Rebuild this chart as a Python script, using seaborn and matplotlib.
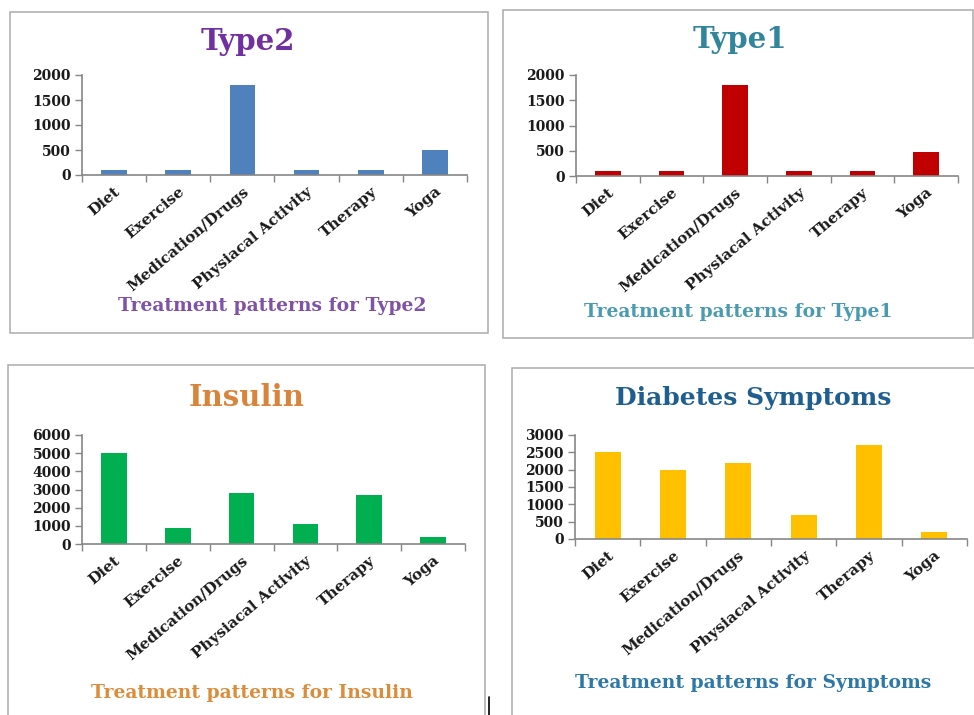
import matplotlib
matplotlib.use("Agg")
import matplotlib.pyplot as plt
from matplotlib.patches import Rectangle
from matplotlib.lines import Line2D
from matplotlib.ticker import FixedLocator, NullFormatter
import seaborn as sns

sns.set_theme(style="white")
plt.rcParams["font.family"] = ["DejaVu Serif"]

categories = ["Diet", "Exercise", "Medication/Drugs", "Physiacal Activity", "Therapy", "Yoga"]
type2_counts = [100, 100, 1800, 100, 100, 500]
type1_counts = [100, 100, 1800, 100, 100, 480]
insulin_counts = [5000, 900, 2800, 1100, 2700, 400]
symptom_counts = [2500, 2000, 2200, 700, 2700, 200]

type2_ticks = [0, 500, 1000, 1500, 2000]
type1_ticks = [0, 500, 1000, 1500, 2000]
insulin_ticks = [0, 1000, 2000, 3000, 4000, 5000, 6000]
symptom_ticks = [0, 500, 1000, 1500, 2000, 2500, 3000]

W, H = 974, 715
fig = plt.figure(figsize=(W / 100, H / 100), dpi=100)
fig.patch.set_facecolor("white")


def px_rect(x0, y0, x1, y1):
    """Convert a pixel box (top-left origin) to figure fractions."""
    return [x0 / W, 1 - y1 / H, (x1 - x0) / W, (y1 - y0) / H]


def frame(x0, y0, x1, y1):
    fig.add_artist(Rectangle((x0 / W, 1 - y1 / H), (x1 - x0) / W, (y1 - y0) / H,
                             transform=fig.transFigure, fill=False,
                             edgecolor="#ababab", linewidth=1.1))


def panel(axbox, values, ticks, bar_color, title, title_xy, title_size, title_color,
          subtitle, subtitle_xy, subtitle_color):
    ax = fig.add_axes(px_rect(*axbox))
    sns.barplot(x=categories, y=values, ax=ax, color=bar_color,
                width=0.4, saturation=1, edgecolor="none")
    ax.set_ylim(ticks[0], ticks[-1])
    ax.set_xlim(-0.5, len(categories) - 0.5)
    ax.set_yticks(ticks)
    ax.set_yticklabels([str(t) for t in ticks], fontsize=10, fontweight="bold",
                       color="#1a1a1a")
    ax.set_xticks(range(len(categories)))
    ax.set_xticklabels(categories, rotation=40, ha="right",
                       rotation_mode="anchor", fontsize=11,
                       fontweight="bold", color="#1a1a1a")
    ax.xaxis.set_minor_locator(FixedLocator([i - 0.5 for i in range(len(categories) + 1)]))
    ax.xaxis.set_minor_formatter(NullFormatter())
    ax.tick_params(axis="x", which="major", length=0, pad=7)
    ax.tick_params(axis="x", which="minor", length=5, width=1, color="#868686",
                   direction="out", bottom=True)
    ax.tick_params(axis="y", which="major", length=5, width=1, color="#868686",
                   direction="out", left=True, pad=3)
    for side in ("top", "right"):
        ax.spines[side].set_visible(False)
    for side in ("left", "bottom"):
        ax.spines[side].set_color("#868686")
        ax.spines[side].set_linewidth(1.2)
    ax.set_xlabel("")
    ax.set_ylabel("")
    ax.set_facecolor("none")
    ax.grid(False)
    fig.text(title_xy[0] / W, 1 - title_xy[1] / H, title, ha="center", va="center",
             fontsize=title_size, fontweight="bold", color=title_color)
    fig.text(subtitle_xy[0] / W, 1 - subtitle_xy[1] / H, subtitle, ha="center",
             va="center", fontsize=13.5, fontweight="bold", color=subtitle_color)
    return ax


# panel frames
frame(10, 12, 488, 333)
frame(503, 10, 973, 338)
frame(8, 365, 485, 720)
frame(512, 368, 978, 720)

panel((82, 75, 467, 175), type2_counts, type2_ticks, "#4f81bd",
      "Type2", (248, 42), 21, "#7030a0",
      "Treatment patterns for Type2", (272, 306), "#7f52a8")
panel((576, 75, 958, 176), type1_counts, type1_ticks, "#c00000",
      "Type1", (740, 40), 21, "#31859c",
      "Treatment patterns for Type1", (738, 312), "#4a9bb0")
panel((82, 435, 465, 544), insulin_counts, insulin_ticks, "#00b050",
      "Insulin", (247, 398), 21, "#d8843a",
      "Treatment patterns for Insulin", (252, 693), "#dc8d3c")
panel((575, 435, 967, 539), symptom_counts, symptom_ticks, "#ffc000",
      "Diabetes Symptoms", (753, 398), 18, "#1f5f8f",
      "Treatment patterns for Symptoms", (753, 683), "#2e78a8")

# small cursor mark between the lower panels
fig.add_artist(Line2D([489 / W, 489 / W], [1 - 697 / H, 1 - 715 / H],
                      transform=fig.transFigure, color="black", linewidth=1.2))

fig.savefig("out.png", dpi=100, facecolor="white")
